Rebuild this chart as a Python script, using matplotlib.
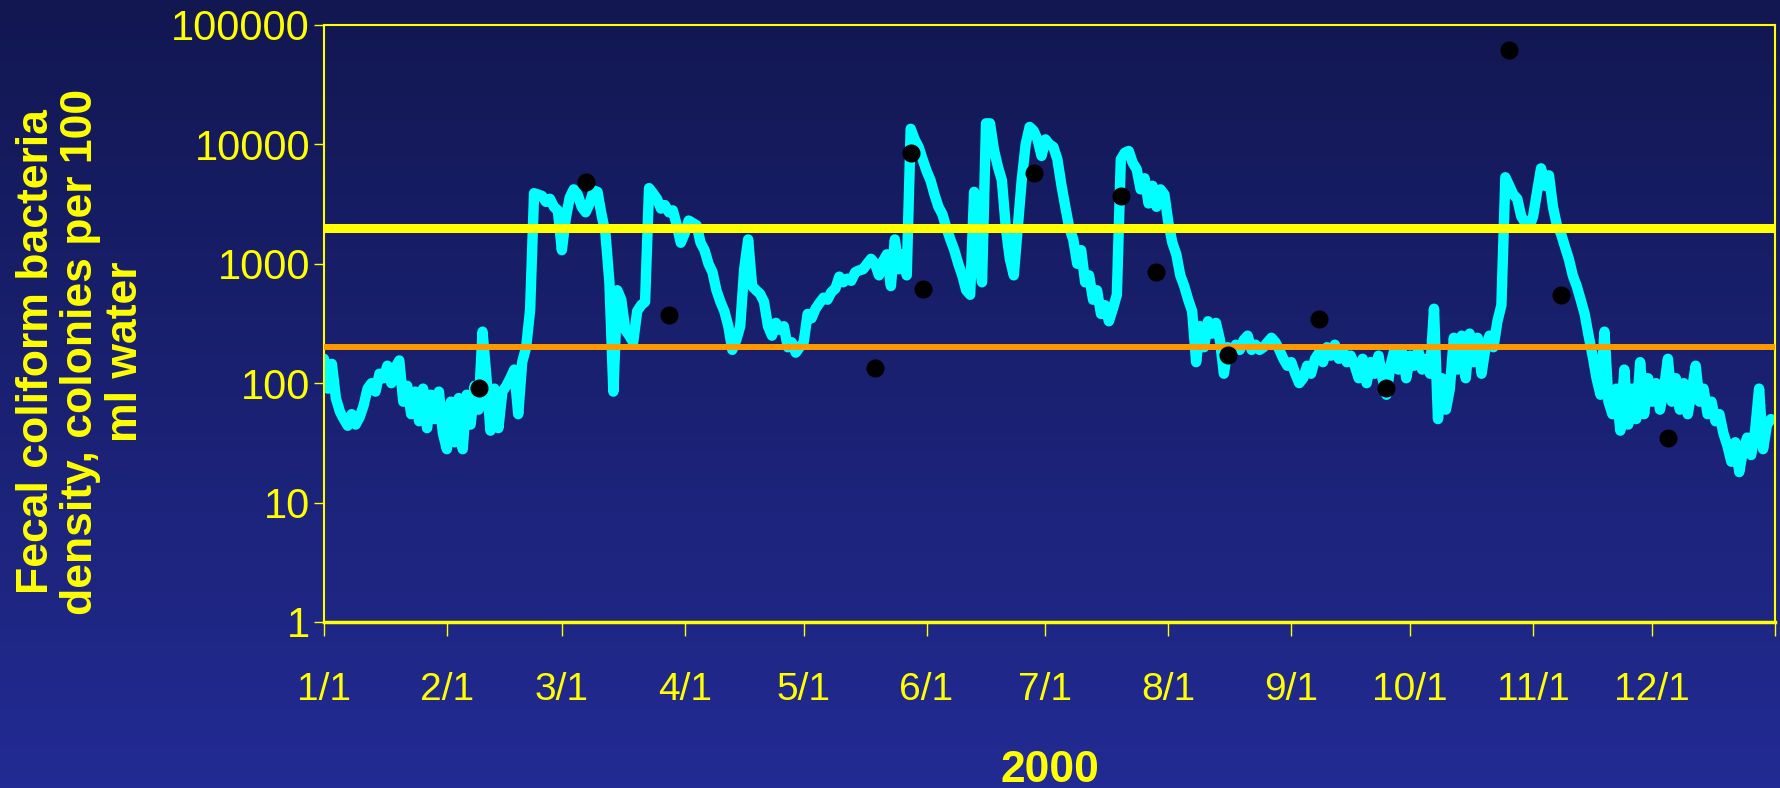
import numpy as np
import pandas as pd
import matplotlib
matplotlib.use("Agg")
import matplotlib.pyplot as plt
from matplotlib.colors import LinearSegmentedColormap
from matplotlib.ticker import NullLocator

# Daily fecal coliform density (colonies per 100 ml), one list per month of 2000
jan = [160, 90, 145, 75, 58, 50, 44, 55, 45, 52, 65, 90, 100, 85, 120, 110, 140, 100, 135, 155,
       70, 95, 55, 85, 48, 90, 42, 80, 50, 85, 38]
feb = [28, 70, 32, 75, 28, 80, 45, 95, 60, 270, 110, 40, 90, 42, 85, 95, 110, 130, 55, 150,
       200, 410, 3900, 3800, 3700, 3300, 3500, 3000, 2800]
mar = [1300, 2400, 3600, 4200, 3800, 3000, 2700, 3200, 4100, 4000, 2600, 1800, 700, 85, 600,
       500, 280, 250, 220, 400, 450, 480, 4300, 3900, 3500, 2900, 3100, 2700, 2800, 2100, 1500]
apr = [1800, 2300, 2200, 2100, 1500, 1300, 1000, 850, 600, 480, 400, 300, 190, 230, 300,
       900, 1600, 650, 600, 560, 480, 300, 250, 320, 280, 300, 200, 220, 180, 200]
may = [220, 380, 350, 420, 470, 520, 500, 580, 620, 780, 700, 750, 720, 850, 880, 900, 1000,
       1100, 1000, 800, 1050, 1200, 650, 1600, 900, 1200, 800, 13500, 11000, 9500, 7500]
jun = [6000, 5000, 3800, 3000, 2600, 2000, 1600, 1300, 1000, 800, 600, 550, 4000, 1200, 700,
       15000, 15000, 9000, 6500, 5000, 2000, 1100, 800, 2000, 5000, 10000, 14000, 13000, 11000, 8000]
jul = [11000, 10000, 9500, 7500, 4600, 3000, 2000, 1600, 1000, 1300, 700, 800, 500, 600, 380,
       450, 330, 420, 550, 7500, 8500, 8800, 7000, 6200, 4200, 5200, 3200, 4500, 3000, 4200, 3800]
aug = [2200, 1500, 1200, 800, 650, 500, 400, 150, 300, 200, 330, 260, 320, 230, 120, 200, 180,
       210, 190, 230, 250, 190, 210, 190, 200, 220, 240, 220, 190, 160, 140]
sep = [150, 120, 100, 110, 140, 120, 160, 180, 150, 200, 170, 210, 160, 190, 150, 170, 140,
       110, 160, 100, 150, 120, 170, 110, 80, 140, 190, 130, 180, 110]
oct = [170, 140, 190, 130, 160, 120, 420, 50, 110, 60, 90, 240, 130, 250, 110, 260, 150, 240,
       120, 200, 250, 200, 330, 450, 5300, 4500, 3800, 3500, 2500, 2200, 2000]
nov = [2500, 4000, 6300, 4500, 5500, 3000, 2100, 1800, 1400, 1100, 800, 650, 500, 380, 250,
       170, 110, 80, 270, 70, 55, 90, 40, 130, 45, 90, 50, 150, 55, 110]
dec = [70, 100, 60, 90, 160, 70, 110, 60, 100, 55, 85, 140, 70, 90, 55, 70, 48, 55, 38, 30,
       22, 32, 18, 28, 35, 25, 40, 90, 28, 45, 50]

# Grab samples (black dots)
sample_dates = ['2000-02-09', '2000-03-07', '2000-03-28', '2000-05-19', '2000-05-28',
                '2000-05-31', '2000-06-28', '2000-07-20', '2000-07-29', '2000-08-16',
                '2000-09-08', '2000-09-25', '2000-10-26', '2000-11-08', '2000-12-05']
sample_values = [91, 4800, 370, 133, 8500, 620, 5800, 3700, 850, 172, 345, 91, 62000, 548, 35]

# Standards
high_standard = 2000
low_standard = 200

month_labels = ['1/1', '2/1', '3/1', '4/1', '5/1', '6/1', '7/1', '8/1', '9/1', '10/1', '11/1', '12/1']
y_ticks = [1, 10, 100, 1000, 10000, 100000]

BG_TOP = '#121751'
BG_BOTTOM = '#222b93'
YELLOW = '#ffff00'
CYAN = '#00ffff'
ORANGE = '#ff9900'
NARROW = ['Liberation Sans Narrow', 'Liberation Sans']

values = np.concatenate([jan, feb, mar, apr, may, jun, jul, aug, sep, oct, nov, dec])
days = pd.date_range('2000-01-01', periods=len(values), freq='D')

fig = plt.figure(figsize=(17.81, 7.88), dpi=100)

# background gradient
bg = fig.add_axes([0, 0, 1, 1], zorder=-10)
cmap = LinearSegmentedColormap.from_list('bg', [BG_TOP, BG_BOTTOM])
bg.imshow(np.linspace(0, 1, 256).reshape(-1, 1), aspect='auto', cmap=cmap, extent=[0, 1, 0, 1])
bg.axis('off')

ax = fig.add_axes([0.1819, 0.2107, 0.8147, 0.7576])
ax.set_facecolor('none')

ax.plot(days, values, color=CYAN, lw=7.5, solid_joinstyle='round', solid_capstyle='round', zorder=2)
ax.axhline(high_standard, color=YELLOW, lw=6.5, zorder=3)
ax.axhline(low_standard, color=ORANGE, lw=4.3, zorder=3)
ax.plot(pd.to_datetime(sample_dates), sample_values, 'o', color='black', ms=12, zorder=4)

ax.set_yscale('log')
ax.set_ylim(1, 100000)
ax.set_yticks(y_ticks)
ax.set_yticklabels([str(v) for v in y_ticks])
ax.yaxis.set_minor_locator(NullLocator())

month_starts = pd.date_range('2000-01-01', '2001-01-01', freq='MS')
ax.set_xlim(month_starts[0], month_starts[-1])
ax.set_xticks(month_starts)
ax.set_xticklabels(month_labels + [''])
ax.xaxis.set_minor_locator(NullLocator())

for side in ['left', 'right', 'top', 'bottom']:
    ax.spines[side].set_color(YELLOW)
    ax.spines[side].set_linewidth(1.5)
ax.spines['bottom'].set_linewidth(2.5)

ax.tick_params(axis='x', direction='out', length=10, width=1, color=YELLOW,
               labelcolor=YELLOW, labelsize=28, pad=26)
ax.tick_params(axis='y', direction='out', length=7, width=1, color=YELLOW,
               labelcolor=YELLOW, labelsize=30, pad=3)
for lbl in ax.get_xticklabels():
    lbl.set_family(NARROW)
for lbl in ax.get_yticklabels():
    lbl.set_family('Liberation Sans')

ax.set_xlabel('2000', color=YELLOW, fontsize=32, fontweight='bold', family=NARROW)
ax.xaxis.set_label_coords(0.5, -0.214)

fig.text(81 / 1781, 1 - 352 / 788,
         'Fecal coliform bacteria\ndensity, colonies per 100\nml water',
         rotation=90, ha='center', va='center', multialignment='center',
         color=YELLOW, fontsize=32, fontweight='bold', family='Liberation Sans',
         linespacing=1.1)

fig.savefig('out.png', dpi=100)
